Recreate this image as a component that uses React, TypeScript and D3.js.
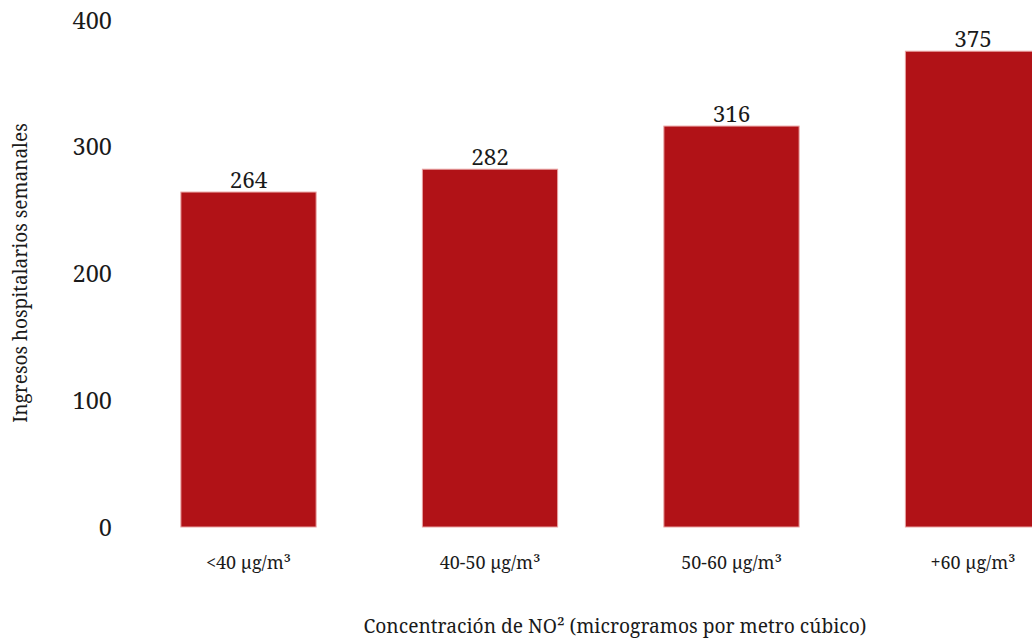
import React from "react";
import * as d3 from "d3";

const categories = ["<40 µg/m³", "40-50 µg/m³", "50-60 µg/m³", "+60 µg/m³"];
const values = [264, 282, 316, 375];
const yTicks = [0, 100, 200, 300, 400];
const xTitle = "Concentración de NO² (microgramos por metro cúbico)";
const yTitle = "Ingresos hospitalarios semanales";

const W = 1032;
const H = 638;
const FONT = "'Noto Serif', 'DejaVu Serif', serif";

export default function App() {
  const x = d3
    .scaleBand<string>()
    .domain(categories)
    .range([127.75, 1093.75])
    .paddingInner(0.44)
    .paddingOuter(0.22);
  const y = d3.scaleLinear().domain([0, 400]).range([527, 19.5]);

  return (
    <svg
      width={W}
      height={H}
      style={{ position: "absolute", left: 0, top: 0, background: "#fff" }}
      fontFamily={FONT}
    >
      {yTicks.map((t) => (
        <text
          key={t}
          x={112}
          y={y(t)}
          textAnchor="end"
          dominantBaseline="central"
          fontSize={23.5}
          fill="#1a1a1a"
        >
          {t}
        </text>
      ))}
      {categories.map((c, i) => (
        <g key={c}>
          <rect
            x={x(c)}
            y={y(values[i])}
            width={x.bandwidth()}
            height={y(0) - y(values[i])}
            fill="#b11217"
            stroke="#e9a3a3"
            strokeWidth={1}
          />
          <text
            x={(x(c) as number) + x.bandwidth() / 2}
            y={y(values[i]) - 4}
            textAnchor="middle"
            fontSize={22.5}
            fill="#1a1a1a"
          >
            {values[i]}
          </text>
          <text
            x={(x(c) as number) + x.bandwidth() / 2}
            y={562}
            textAnchor="middle"
            dominantBaseline="central"
            fontSize={18}
            fill="#1a1a1a"
          >
            {c}
          </text>
        </g>
      ))}
      <text
        transform={`translate(20,273) rotate(-90)`}
        textAnchor="middle"
        dominantBaseline="central"
        fontSize={19}
        fill="#1a1a1a"
      >
        {yTitle}
      </text>
      <text
        x={615}
        y={633}
        textAnchor="middle"
        fontSize={19.2}
        fill="#1a1a1a"
      >
        {xTitle}
      </text>
    </svg>
  );
}
